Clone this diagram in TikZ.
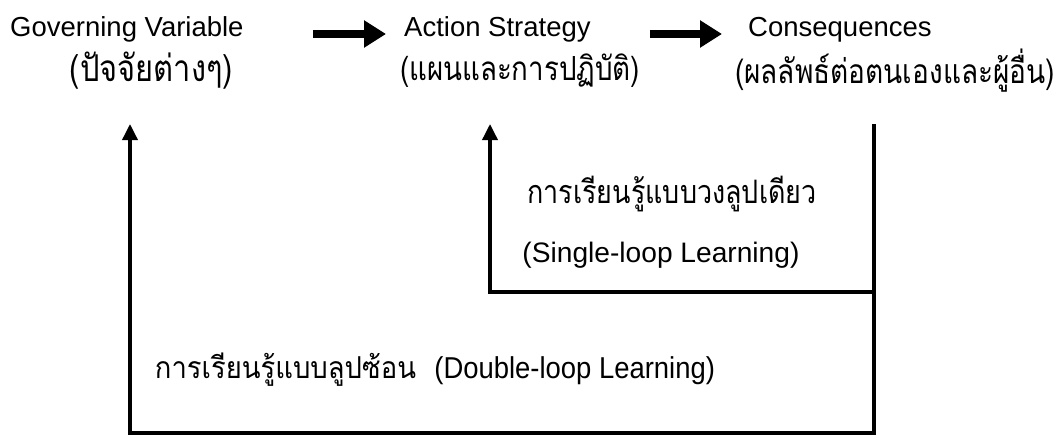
\documentclass[tikz,border=0pt]{standalone}
\usepackage{fontspec}
\usepackage{graphicx}
\setmainfont{Liberation Sans}
\newfontfamily\thaifont[Script=Thai]{Loma}
\usetikzlibrary{arrows.meta}
\newcommand\fitw[2]{\resizebox{#1pt}{!}{#2}}
\newcommand\fitth[2]{\scalebox{1}[1.2]{\resizebox{#1pt}{!}{#2}}}
\begin{document}
\begin{tikzpicture}[x=1pt,y=-1pt,
  lbl/.style={inner sep=0pt, font=\fontsize{27.5}{33}\selectfont},
  th/.style={inner sep=0pt},
  fwd/.style={line width=7.5pt, -{Triangle[length=22pt,width=26pt]}},
  loopline/.style={line width=3.5pt, -{Triangle[length=16pt,width=15pt]}},
  plain/.style={line width=3.5pt}
]
\useasboundingbox (0,0) rectangle (1061,436);
% top labels
\node[lbl, anchor=base west] (gv) at (10,37) {Governing Variable};
\node[lbl, anchor=base west] (as) at (404,37) {Action Strategy};
\node[lbl, anchor=base west] (cq) at (748,37) {Consequences};
\draw[fwd] ([shift={(69,-3)}]gv.base east) -- ([shift={(-18,-3)}]as.base west);
\draw[fwd] ([shift={(59,-3)}]as.base east) -- ([shift={(-26,-3)}]cq.base west);
% thai sub labels
\node[th] (t1) at (151.5,71) {\fitth{163}{\thaifont (ปัจจัยต่างๆ)}};
\node[th] (t2) at (520,71) {\fitth{240}{\thaifont (แผนและการปฏิบัติ)}};
\node[th] (t3) at (895,71) {\fitth{320}{\thaifont (ผลลัพธ์ต่อตนเองและผู้อื่น)}};
% loop labels
\node[th] (sl1) at (672,194) {\fitth{289}{\thaifont การเรียนรู้แบบวงลูปเดียว}};
\node[th] (sl2) at (661,255) {\fitw{277}{(Single-loop Learning)}};
\node[th] (dl) at (435,370) {\scalebox{1}[1.1]{\fitw{560}{\thaifont การเรียนรู้แบบลูปซ้อน~~\rmfamily (Double-loop Learning)}}};
% loop connectors
\coordinate (rtop) at (874,124);
\coordinate (rmid) at (874,292);
\coordinate (stip) at (490,124);
\coordinate (dtip) at (130,124);
\draw[plain] (rtop) -- (rmid);
\draw[loopline] (rmid) -| (stip);
\draw[loopline] (rmid) |- (130,433) -- (dtip);
\end{tikzpicture}
\end{document}
